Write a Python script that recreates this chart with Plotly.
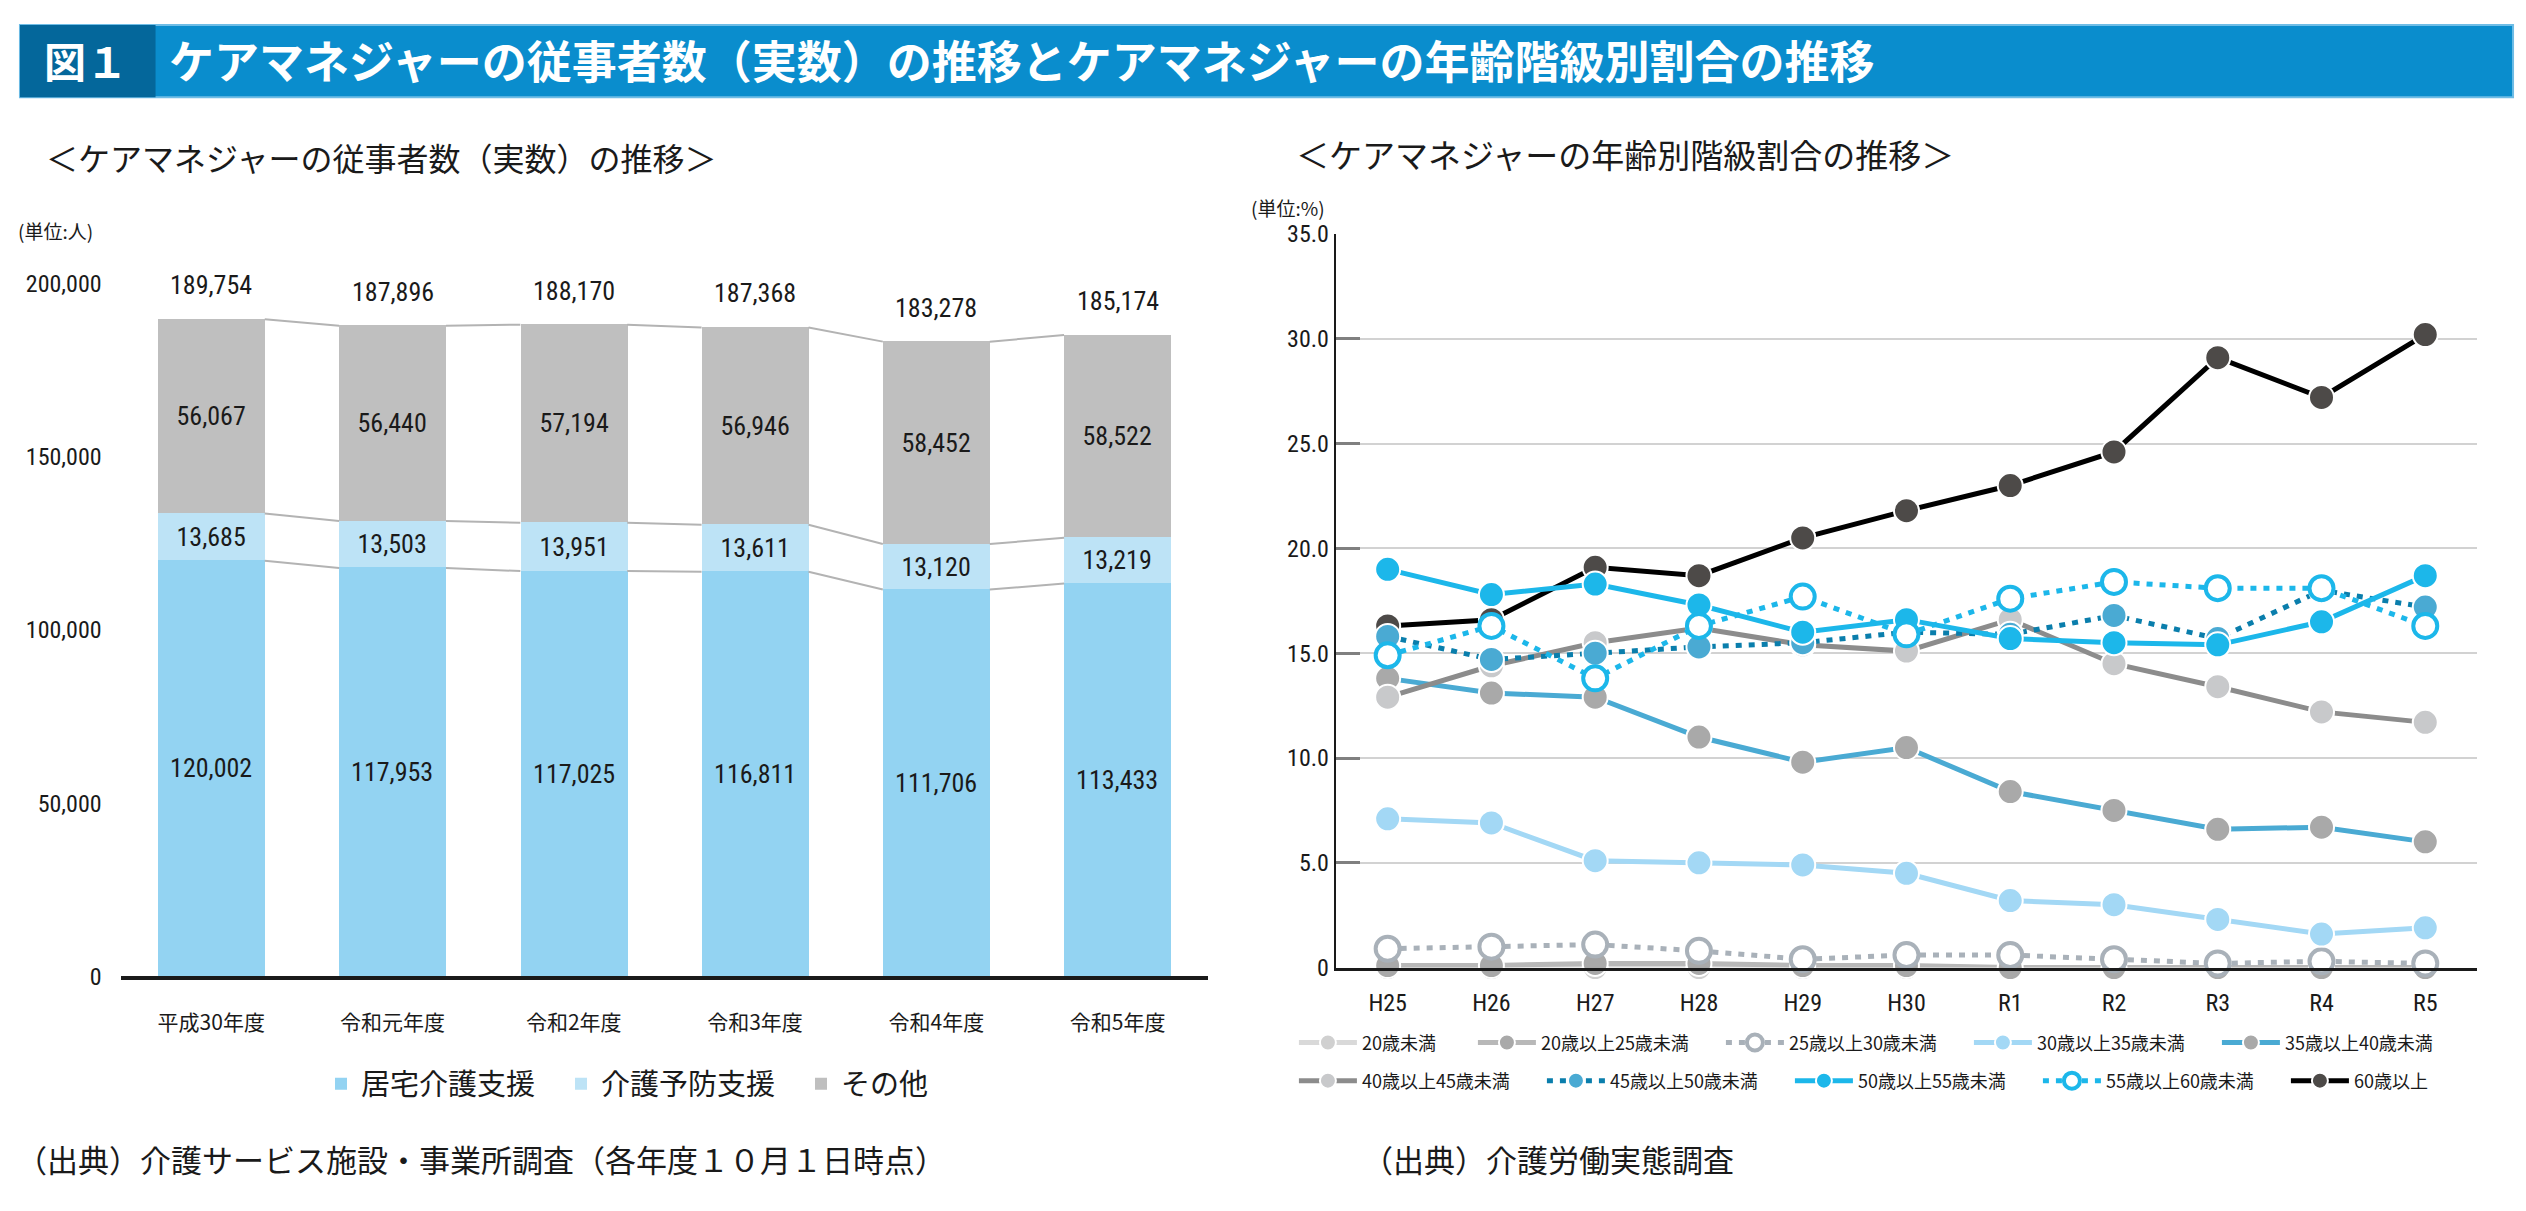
import plotly.graph_objects as go

# ---------------- data ----------------
bar_categories = ["平成30年度", "令和元年度", "令和2年度", "令和3年度", "令和4年度", "令和5年度"]
bar_series_names = ["居宅介護支援", "介護予防支援", "その他"]
bar_kyotaku = [120002, 117953, 117025, 116811, 111706, 113433]
bar_yobo = [13685, 13503, 13951, 13611, 13120, 13219]
bar_sonota = [56067, 56440, 57194, 56946, 58452, 58522]
bar_totals = [189754, 187896, 188170, 187368, 183278, 185174]
bar_yticks = [0, 50000, 100000, 150000, 200000]

line_years = ["H25", "H26", "H27", "H28", "H29", "H30", "R1", "R2", "R3", "R4", "R5"]
age_labels = ["20歳未満", "20歳以上25歳未満", "25歳以上30歳未満", "30歳以上35歳未満", "35歳以上40歳未満",
              "40歳以上45歳未満", "45歳以上50歳未満", "50歳以上55歳未満", "55歳以上60歳未満", "60歳以上"]
age_u20 = [0.0, 0.0, 0.0, 0.0, 0.0, 0.0, 0.0, 0.0, 0.0, 0.0, 0.0]
age_20_25 = [0.1, 0.1, 0.2, 0.2, 0.1, 0.1, 0.0, 0.0, 0.0, 0.0, 0.0]
age_25_30 = [0.9, 1.0, 1.1, 0.8, 0.4, 0.6, 0.6, 0.4, 0.2, 0.3, 0.2]
age_30_35 = [7.1, 6.9, 5.1, 5.0, 4.9, 4.5, 3.2, 3.0, 2.3, 1.6, 1.9]
age_35_40 = [13.8, 13.1, 12.9, 11.0, 9.8, 10.5, 8.4, 7.5, 6.6, 6.7, 6.0]
age_40_45 = [12.9, 14.4, 15.5, 16.2, 15.4, 15.1, 16.6, 14.5, 13.4, 12.2, 11.7]
age_45_50 = [15.8, 14.7, 15.0, 15.3, 15.5, 16.0, 15.9, 16.8, 15.7, 18.0, 17.2]
age_50_55 = [19.0, 17.8, 18.3, 17.3, 16.0, 16.6, 15.7, 15.5, 15.4, 16.5, 18.7]
age_55_60 = [14.9, 16.3, 13.8, 16.3, 17.7, 15.9, 17.6, 18.4, 18.1, 18.1, 16.3]
age_60_over = [16.3, 16.6, 19.1, 18.7, 20.5, 21.8, 23.0, 24.6, 29.1, 27.2, 30.2]
line_yticks = [0, 5, 10, 15, 20, 25, 30, 35]
line_yticklabels = ["0", "5.0", "10.0", "15.0", "20.0", "25.0", "30.0", "35.0"]

main_title = "ケアマネジャーの従事者数（実数）の推移とケアマネジャーの年齢階級別割合の推移"
fig_label = "図１"
left_subtitle = "＜ケアマネジャーの従事者数（実数）の推移＞"
right_subtitle = "＜ケアマネジャーの年齢別階級割合の推移＞"
left_unit = "(単位:人)"
right_unit = "(単位:%)"
left_source = "（出典）介護サービス施設・事業所調査（各年度１０月１日時点）"
right_source = "（出典）介護労働実態調査"

# ---------------- geometry / style ----------------
W, H = 2526, 1211
def fx(px):
    return px / W
def fy(py):
    return 1 - py / H

NUM_FONT = "Liberation Sans Narrow, Arial Narrow, Roboto Condensed, Liberation Sans, sans-serif"
JP_FONT = "Noto Sans CJK JP, Noto Sans, sans-serif"
TXT = "#1a1a1a"
BAR_W = 0.59
bar_colors = ["#93d3f2", "#bde3f6", "#bfbfbf"]

fig = go.Figure()

# ---------------- left: stacked bars ----------------
x_idx = list(range(len(bar_categories)))
for name, vals, color in zip(bar_series_names, [bar_kyotaku, bar_yobo, bar_sonota], bar_colors):
    fig.add_trace(go.Bar(
        x=x_idx, y=vals, name=name, width=BAR_W,
        marker=dict(color=color, line=dict(width=0)),
        text=[f"{v:,}" for v in vals], textposition="inside", insidetextanchor="middle",
        textangle=0, textfont=dict(family=NUM_FONT, size=26, color=TXT),
        xaxis="x", yaxis="y", legend="legend", legendwidth=195, hoverinfo="skip"))

cum1 = list(bar_kyotaku)
cum2 = [a + b for a, b in zip(bar_kyotaku, bar_yobo)]
cum3 = [a + b + c for a, b, c in zip(bar_kyotaku, bar_yobo, bar_sonota)]
cx, cy = [], []
for lev in (cum1, cum2, cum3):
    for i in range(len(lev) - 1):
        cx += [x_idx[i] + BAR_W / 2, x_idx[i + 1] - BAR_W / 2, None]
        cy += [lev[i], lev[i + 1], None]
fig.add_trace(go.Scatter(x=cx, y=cy, mode="lines", line=dict(color="#b3b3b3", width=2),
                         showlegend=False, hoverinfo="skip", xaxis="x", yaxis="y"))

annotations = []
for i, t in enumerate(bar_totals):
    annotations.append(dict(x=x_idx[i], y=t, xref="x", yref="y", text=f"{t:,}", showarrow=False,
                            yshift=34, font=dict(family=NUM_FONT, size=26, color=TXT)))

# ---------------- right: lines ----------------
line_series = [age_u20, age_20_25, age_25_30, age_30_35, age_35_40,
               age_40_45, age_45_50, age_50_55, age_55_60, age_60_over]
line_colors = ["#d9d9d9", "#b8b8b8", "#a9b1b9", "#a3d8f5", "#4aaad3",
               "#8c8c8c", "#0a7eac", "#1cb7ea", "#1cb7ea", "#000000"]
marker_colors = ["#d0d0d0", "#a9a9a9", "#a9b1b9", "#a3d8f5", "#a9a9a9",
                 "#c8c9cb", "#4aaad3", "#1cb7ea", "#1cb7ea", "#4d4a48"]
line_dashes = ["solid", "solid", "6px,7px", "solid", "solid",
               "solid", "6px,7px", "solid", "6px,7px", "solid"]
open_marker = [False, False, True, False, False, False, False, False, True, False]
legend_ids = ["legend2"] * 5 + ["legend3"] * 5
legend_widths = [106, 175, 175, 175, 175, 175, 175, 175, 175, 175]
draw_order = [9, 0, 1, 2, 3, 4, 5, 6, 7, 8]
xl = list(range(len(line_years)))
for k in draw_order:
    if open_marker[k]:
        mk = dict(size=24, color="white", line=dict(color=marker_colors[k], width=4), symbol="circle")
    else:
        mk = dict(size=25, color=marker_colors[k], line=dict(color="white", width=2), symbol="circle")
    fig.add_trace(go.Scatter(
        x=xl, y=line_series[k], name=age_labels[k], mode="lines+markers",
        line=dict(color=line_colors[k], width=5, dash=line_dashes[k]),
        marker=mk, cliponaxis=False, xaxis="x2", yaxis="y2",
        legend=legend_ids[k], legendrank=k + 1, legendwidth=legend_widths[k], hoverinfo="skip"))

# ---------------- texts ----------------
annotations += [
    dict(x=fx(78), y=fy(38), xref="paper", yref="paper", text="<b>" + fig_label + "</b>", showarrow=False,
         xanchor="center", yanchor="middle", font=dict(family=JP_FONT, size=42, color="white")),
    dict(x=fx(160), y=fy(38), xref="paper", yref="paper", text="<b>" + main_title + "</b>", showarrow=False,
         xanchor="left", yanchor="middle", font=dict(family=JP_FONT, size=45, color="white")),
    dict(x=fx(36), y=fy(138), xref="paper", yref="paper", text=left_subtitle, showarrow=False,
         xanchor="left", yanchor="middle", font=dict(family=JP_FONT, size=32, color=TXT)),
    dict(x=fx(1290), y=fy(135), xref="paper", yref="paper", text=right_subtitle, showarrow=False,
         xanchor="left", yanchor="middle", font=dict(family=JP_FONT, size=33, color=TXT)),
    dict(x=fx(8), y=fy(213), xref="paper", yref="paper", text=left_unit, showarrow=False,
         xanchor="left", yanchor="middle", font=dict(family=JP_FONT, size=19, color=TXT)),
    dict(x=fx(1245), y=fy(190), xref="paper", yref="paper", text=right_unit, showarrow=False,
         xanchor="left", yanchor="middle", font=dict(family=JP_FONT, size=19, color=TXT)),
    dict(x=fx(6), y=fy(1163), xref="paper", yref="paper", text=left_source, showarrow=False,
         xanchor="left", yanchor="middle", font=dict(family=JP_FONT, size=31, color=TXT)),
    dict(x=fx(1356), y=fy(1163), xref="paper", yref="paper", text=right_source, showarrow=False,
         xanchor="left", yanchor="middle", font=dict(family=JP_FONT, size=31, color=TXT)),
]

shapes = [
    dict(type="rect", xref="paper", yref="paper", x0=fx(12), x1=fx(2513), y0=fy(77), y1=fy(3),
         fillcolor="#0a8dcd", line=dict(color="#6fbde6", width=2), layer="below"),
    dict(type="rect", xref="paper", yref="paper", x0=fx(12), x1=fx(148), y0=fy(77), y1=fy(3),
         fillcolor="#04679b", line=dict(width=0), layer="below"),
]

fig.update_layout(
    width=W, height=H, margin=dict(l=0, r=0, t=0, b=0),
    paper_bgcolor="white", plot_bgcolor="white",
    barmode="stack", bargap=0, hovermode=False,
    annotations=annotations, shapes=shapes,
    xaxis=dict(domain=[fx(113), fx(1204)], range=[-0.5, len(bar_categories) - 0.5],
               tickvals=x_idx, ticktext=bar_categories, showgrid=False, zeroline=False,
               showline=True, linecolor="#1a1a1a", linewidth=4, ticks="",
               ticklabelstandoff=24, tickfont=dict(family=JP_FONT, size=21, color=TXT)),
    yaxis=dict(domain=[fy(977), fy(197)], range=[0, 220000], tickvals=bar_yticks,
               tickformat=",d", showgrid=False, zeroline=False, showline=False, ticks="",
               ticklabelstandoff=18, tickfont=dict(family=NUM_FONT, size=24, color=TXT)),
    xaxis2=dict(domain=[fx(1332), fx(2477)], range=[-0.5, len(line_years) - 0.5],
                tickvals=xl, ticktext=line_years, showgrid=False, zeroline=False,
                showline=True, linecolor="#1a1a1a", linewidth=3, ticks="",
                ticklabelstandoff=12, tickfont=dict(family=NUM_FONT, size=24, color=TXT),
                anchor="y2"),
    yaxis2=dict(domain=[fy(968), fy(217)], range=[0, 35], tickvals=line_yticks,
                ticktext=line_yticklabels, showgrid=True, gridcolor="#d2d2d2", gridwidth=2,
                zeroline=False, showline=True, linecolor="#1a1a1a", linewidth=2,
                ticks="inside", ticklen=24, tickwidth=3, tickcolor="#808080",
                tickfont=dict(family=NUM_FONT, size=24, color=TXT), anchor="x2"),
    legend=dict(orientation="h", x=fx(314), y=fy(1087), xanchor="left", yanchor="middle",
                font=dict(family=JP_FONT, size=29, color=TXT), itemwidth=30,
                bgcolor="rgba(0,0,0,0)", traceorder="normal"),
    legend2=dict(orientation="h", x=fx(1290), y=fy(1045), xanchor="left", yanchor="middle",
                 font=dict(family=JP_FONT, size=18, color=TXT), itemwidth=58,
                 bgcolor="rgba(0,0,0,0)"),
    legend3=dict(orientation="h", x=fx(1290), y=fy(1084), xanchor="left", yanchor="middle",
                 font=dict(family=JP_FONT, size=18, color=TXT), itemwidth=58,
                 bgcolor="rgba(0,0,0,0)"),
    showlegend=True,
)

fig.write_html("out.html")
